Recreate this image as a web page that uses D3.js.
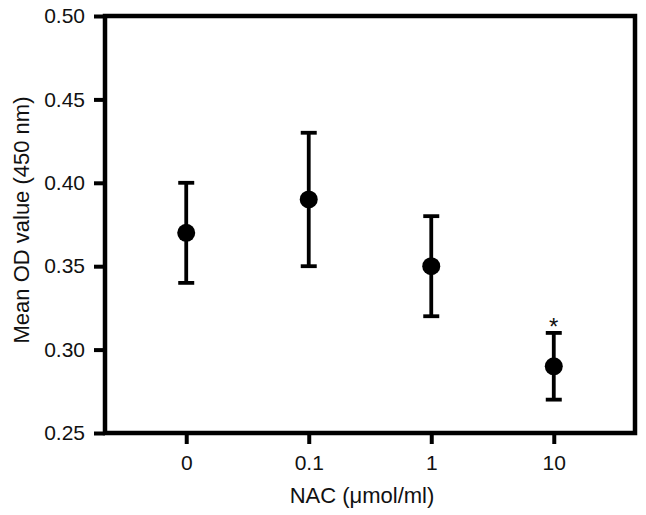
<!DOCTYPE html>
<html><head><meta charset="utf-8">
<script src="https://cdn.jsdelivr.net/npm/d3@7"></script>
<style>body{margin:0;background:#fff}svg{display:block}text{font-family:"Liberation Sans",Arial,sans-serif;fill:#111}</style>
</head><body>
<svg id="c" width="646" height="515"></svg>
<script>
const categories = ["0", "0.1", "1", "10"];
const means = [0.37, 0.39, 0.35, 0.29];
const lower = [0.34, 0.35, 0.32, 0.27];
const upper = [0.40, 0.43, 0.38, 0.31];
const significant = [false, false, false, true];
const yTicks = [0.25, 0.30, 0.35, 0.40, 0.45, 0.50];

const svg = d3.select("#c");
const L = 105, R = 635, T = 16, B = 433;
const x = d3.scalePoint().domain(categories).range([L, R]).padding(0.663);
const y = d3.scaleLinear().domain([0.25, 0.50]).range([B, T]);

const ya = svg.append("g").attr("transform", `translate(${L},0)`)
  .call(d3.axisLeft(y).tickValues(yTicks).tickFormat(d3.format(".2f")).tickSize(11).tickPadding(9));
const xa = svg.append("g").attr("transform", `translate(0,${B})`)
  .call(d3.axisBottom(x).tickSize(11).tickPadding(11));
[ya, xa].forEach(g => {
  g.select(".domain").remove();
  g.selectAll("line").attr("stroke", "#000").attr("stroke-width", 4);
  g.selectAll("text").attr("font-size", 21).style("font-family", '"Liberation Sans",Arial,sans-serif').attr("fill", "#111");
});
svg.append("rect").attr("x", L).attr("y", T).attr("width", R - L).attr("height", B - T)
  .attr("fill", "none").attr("stroke", "#000").attr("stroke-width", 4.5);

const data = categories.map((c, i) => ({c, m: means[i], lo: lower[i], hi: upper[i], s: significant[i]}));
const g = svg.append("g");
data.forEach(d => {
  const cx = x(d.c);
  g.append("line").attr("x1", cx).attr("x2", cx).attr("y1", y(d.lo)).attr("y2", y(d.hi)).attr("stroke", "#000").attr("stroke-width", 3.8);
  [d.lo, d.hi].forEach(v => g.append("line").attr("x1", cx - 8).attr("x2", cx + 8).attr("y1", y(v)).attr("y2", y(v)).attr("stroke", "#000").attr("stroke-width", 3.8));
  g.append("circle").attr("cx", cx).attr("cy", y(d.m)).attr("r", 9).attr("fill", "#000");
  if (d.s) g.append("text").attr("x", cx).attr("y", y(d.hi) + 2).attr("text-anchor", "middle").attr("font-size", 24).text("*");
});

svg.append("text").attr("x", 362).attr("y", 503).attr("text-anchor", "middle").attr("font-size", 22).text("NAC (μmol/ml)");
svg.append("text").attr("transform", `translate(29,220) rotate(-90)`).attr("text-anchor", "middle").attr("font-size", 22).text("Mean OD value (450 nm)");
</script>
</body></html>
